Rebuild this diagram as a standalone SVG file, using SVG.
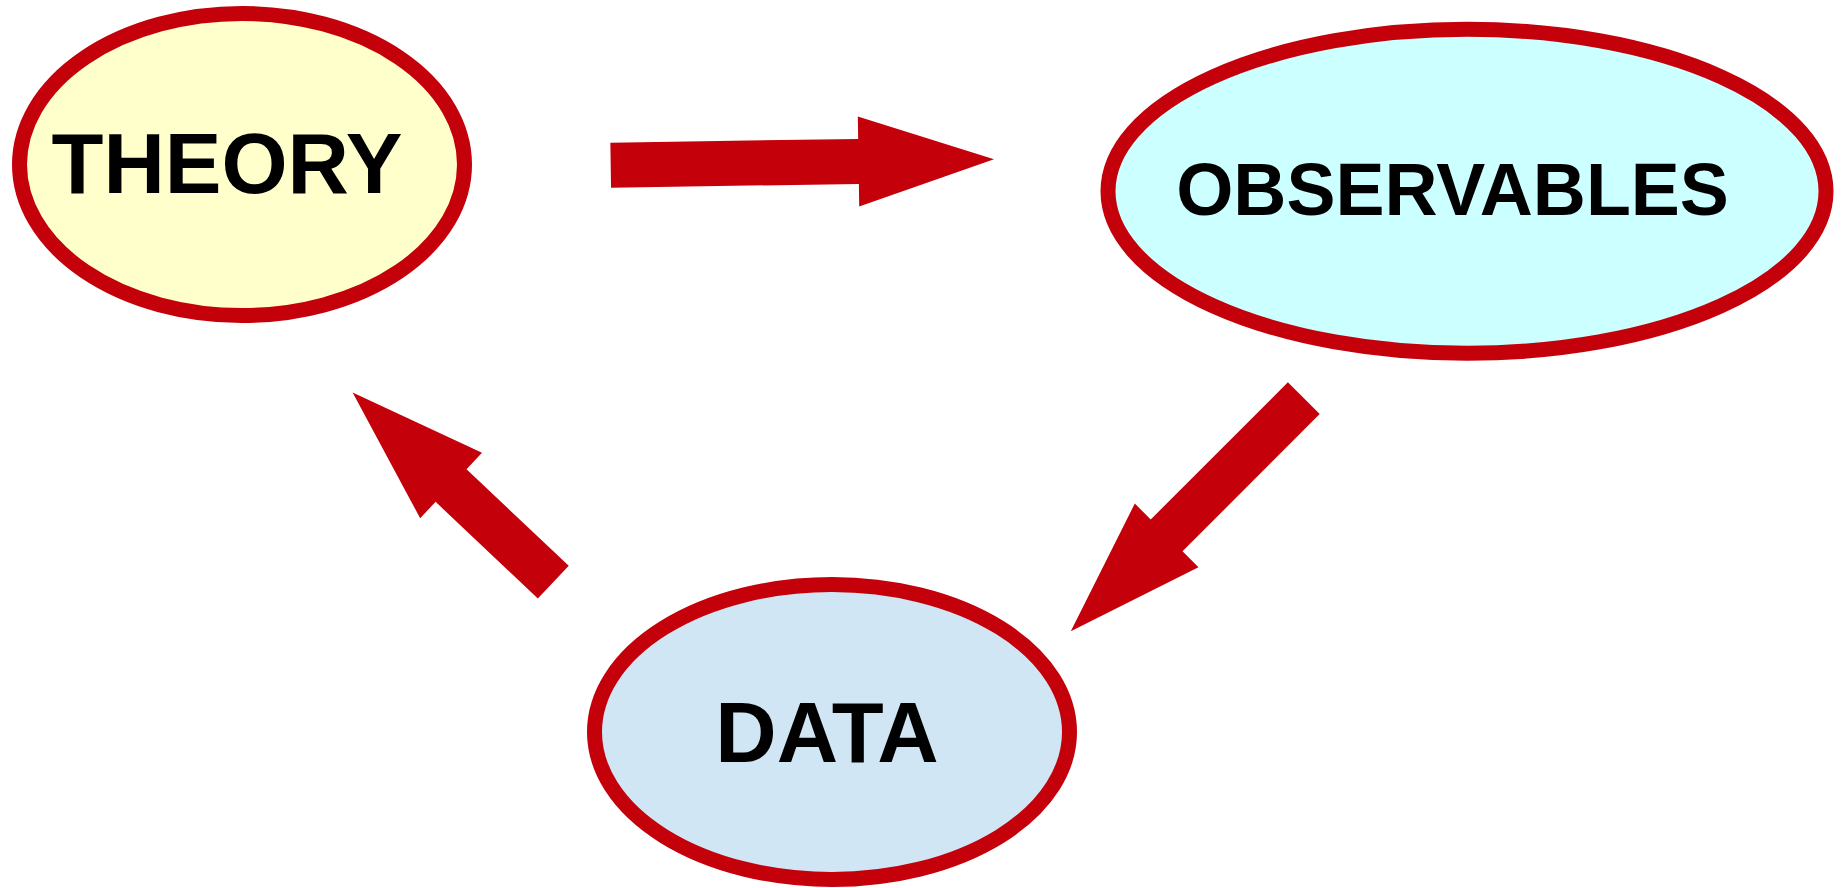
<svg xmlns="http://www.w3.org/2000/svg" width="1841" height="888" viewBox="0 0 1841 888">
<style>
.node ellipse{stroke:#c4000b;stroke-width:15}
.label{font-family:"Liberation Sans",Arial,sans-serif;font-weight:bold;fill:#000;text-anchor:middle}
.arrow{fill:#c4000b}
</style>
<rect width="1841" height="888" fill="#fff"/>
<g id="theory" class="node">
<ellipse cx="242" cy="164.5" rx="222.5" ry="151" fill="#ffffcc"/>
<text class="label" x="227" y="193" font-size="85">THEORY</text>
</g>
<g id="observables" class="node">
<ellipse cx="1467" cy="191.3" rx="359" ry="162" fill="#ccffff"/>
<text class="label" x="1452.5" y="215" font-size="73.5">OBSERVABLES</text>
</g>
<g id="data" class="node">
<ellipse cx="832" cy="732" rx="237.5" ry="147.5" fill="#d0e6f4"/>
<text class="label" x="827" y="761.7" font-size="85">DATA</text>
</g>
<g id="connectors">
<path class="arrow" transform="translate(610.7,165.2) rotate(-0.88)" d="M0,-22.5 L247.85,-22.5 L247.85,-45 L383.35,0 L247.85,45 L247.85,22.5 L0,22.5 Z"/>
<path class="arrow" transform="translate(1303.8,398.2) rotate(135)" d="M0,-22.5 L194,-22.5 L194,-45 L329.5,0 L194,45 L194,22.5 L0,22.5 Z"/>
<path class="arrow" transform="translate(553.3,582.2) rotate(-136.6)" d="M0,-22.5 L140.7,-22.5 L140.7,-45 L276.2,0 L140.7,45 L140.7,22.5 L0,22.5 Z"/>
</g>
</svg>
